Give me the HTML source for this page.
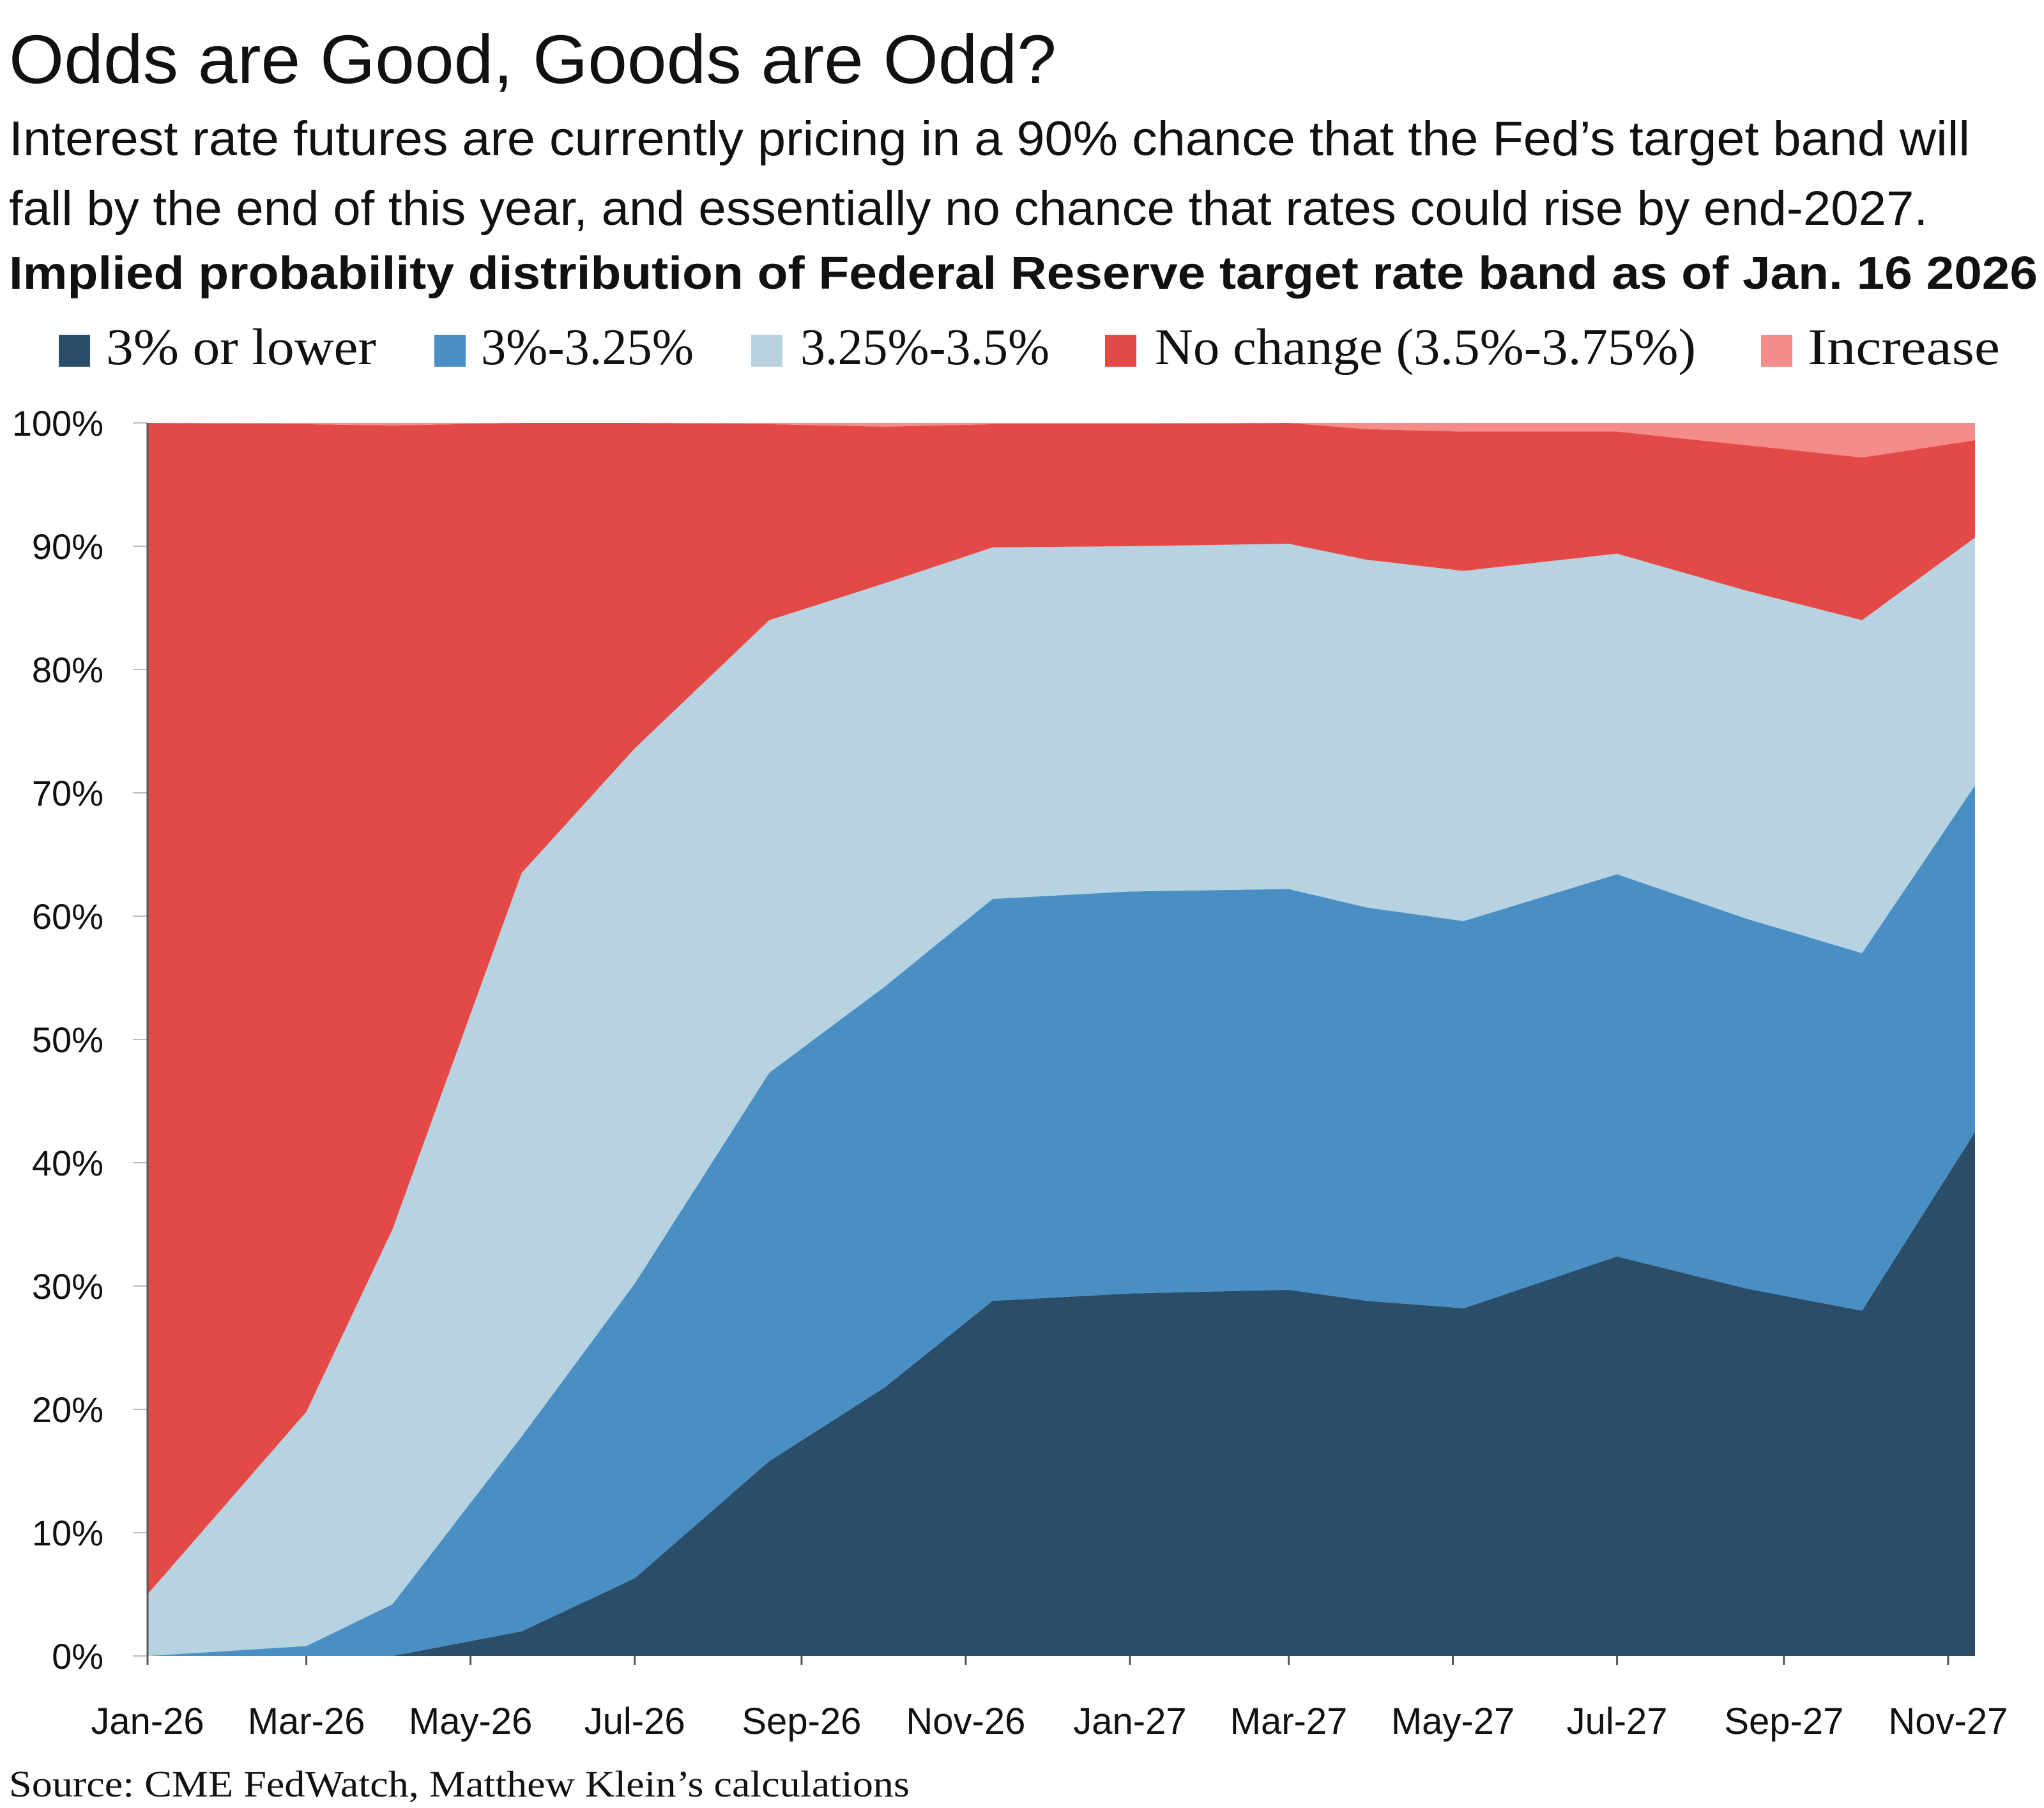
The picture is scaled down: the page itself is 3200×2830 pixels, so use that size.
<!DOCTYPE html>
<html><head><meta charset="utf-8"><style>
html,body{margin:0;padding:0;background:#fff;}
svg{display:block;}
text{fill:#111;}
.sans{font-family:"Liberation Sans","DejaVu Sans",sans-serif;}
.serif{font-family:"Liberation Serif","DejaVu Serif",serif;}
</style></head><body>
<svg id="chart" width="3200" height="2830" viewBox="0 0 3200 2830" xmlns="http://www.w3.org/2000/svg">
<text class="sans" x="14" y="130" font-size="108" textLength="1640" lengthAdjust="spacingAndGlyphs">Odds are Good, Goods are Odd?</text>
<text class="sans" x="14" y="243" font-size="76" textLength="3070" lengthAdjust="spacingAndGlyphs">Interest rate futures are currently pricing in a 90% chance that the Fed’s target band will</text>
<text class="sans" x="14" y="352" font-size="76" textLength="3004" lengthAdjust="spacingAndGlyphs">fall by the end of this year, and essentially no chance that rates could rise by end-2027.</text>
<text class="sans" x="14" y="452" font-size="72" font-weight="bold" textLength="3176" lengthAdjust="spacingAndGlyphs">Implied probability distribution of Federal Reserve target rate band as of Jan. 16 2026</text>
<g id="legend">
<g><rect x="92" y="524" width="49" height="50" fill="#2a4e69"/><text class="serif" x="166" y="570" font-size="80" textLength="423" lengthAdjust="spacingAndGlyphs">3% or lower</text></g>
<g><rect x="680" y="524" width="49" height="50" fill="#4a8fc4"/><text class="serif" x="753" y="570" font-size="80" textLength="333" lengthAdjust="spacingAndGlyphs">3%-3.25%</text></g>
<g><rect x="1176" y="524" width="49" height="50" fill="#b7d2e0"/><text class="serif" x="1253" y="570" font-size="80" textLength="390" lengthAdjust="spacingAndGlyphs">3.25%-3.5%</text></g>
<g><rect x="1730" y="524" width="49" height="50" fill="#e34a47"/><text class="serif" x="1808" y="570" font-size="80" textLength="847" lengthAdjust="spacingAndGlyphs">No change (3.5%-3.75%)</text></g>
<g><rect x="2757" y="524" width="49" height="50" fill="#f48c8a"/><text class="serif" x="2830" y="570" font-size="80" textLength="301" lengthAdjust="spacingAndGlyphs">Increase</text></g>
</g>
<g id="plot"></g>
<text class="serif" x="14" y="2812" font-size="58" textLength="1410" lengthAdjust="spacingAndGlyphs">Source: CME FedWatch, Matthew Klein’s calculations</text>
</svg>
<script>
// days since Jan 1 2026
const days = [0, 59, 91, 139, 181, 231, 274, 314, 365, 424, 453, 489, 546, 594, 637, 679];
const lowest   = [0, 0, 0, 2, 6.3, 15.8, 21.8, 28.8, 29.4, 29.7, 28.8, 28.2, 32.4, 29.8, 28.0, 42.5];
const band300  = [0, 0.8, 4.2, 15.8, 23.9, 31.5, 32.5, 32.6, 32.6, 32.5, 31.9, 31.4, 31.0, 30.0, 29.0, 28.1];
const band325  = [5, 19.0, 30.4, 45.7, 43.4, 36.7, 32.7, 28.5, 28.0, 28.0, 28.2, 28.4, 26.0, 26.6, 27.0, 20.1];
const noChange = [95, 80.1, 65.2, 36.5, 26.4, 15.9, 12.7, 10.0, 9.9, 9.8, 10.6, 11.3, 9.9, 11.8, 13.2, 7.9];
const increase = [0, 0.1, 0.2, 0, 0, 0.1, 0.3, 0.1, 0.1, 0, 0.5, 0.7, 0.7, 1.8, 2.8, 1.4];
const yTicks = [0,10,20,30,40,50,60,70,80,90,100];
const xTickLabels = ["Jan-26","Mar-26","May-26","Jul-26","Sep-26","Nov-26","Jan-27","Mar-27","May-27","Jul-27","Sep-27","Nov-27"];
const xTickDays = [0,59,120,181,243,304,365,424,485,546,608,669];
const seriesColors = ["#2a4e69","#4a8fc4","#b7d2e0","#e34a47","#f48c8a"];
const seriesNames = ["area-3pct-or-lower","area-3-3.25pct","area-3.25-3.5pct","area-no-change","area-increase"];

const L=231,R=3092,T=662,B=2592;
const NS="http://www.w3.org/2000/svg";
const xS=d=>L+(d-days[0])/(days[days.length-1]-days[0])*(R-L);
const yS=v=>B-v/100*(B-T);
const plot=document.getElementById('plot');
const series=[lowest,band300,band325,noChange,increase];
let base=days.map(()=>0);
series.forEach((s,k)=>{
  const top=base.map((b,i)=>b+s[i]);
  let d="M"+days.map((t,i)=>xS(t)+","+yS(Math.min(top[i],100))).join(" L");
  for(let i=days.length-1;i>=0;i--) d+=" L"+xS(days[i])+","+yS(base[i]);
  d+=" Z";
  const p=document.createElementNS(NS,'path');
  p.setAttribute('d',d);p.setAttribute('fill',seriesColors[k]);
  
  
  plot.appendChild(p);
  base=top;
});
yTicks.forEach(v=>{
  const ln=document.createElementNS(NS,'line');
  ln.setAttribute('x1',208);ln.setAttribute('x2',L);ln.setAttribute('y1',yS(v));ln.setAttribute('y2',yS(v));
  ln.setAttribute('stroke','#bbb');ln.setAttribute('stroke-width',2);
  
  
  plot.appendChild(ln);
  const t=document.createElementNS(NS,'text');
  t.setAttribute('x',162);t.setAttribute('y',yS(v)+20);t.setAttribute('text-anchor','end');
  t.setAttribute('font-size',56);t.setAttribute('class','sans');t.textContent=v+"%";
  
  
  plot.appendChild(t);
});
const ax=document.createElementNS(NS,'line');
ax.setAttribute('x1',L);ax.setAttribute('x2',L);ax.setAttribute('y1',T);ax.setAttribute('y2',B+14);
ax.setAttribute('stroke','#555');ax.setAttribute('stroke-width',3);


plot.appendChild(ax);
xTickDays.forEach((dd,i)=>{
  const ln=document.createElementNS(NS,'line');
  ln.setAttribute('x1',xS(dd));ln.setAttribute('x2',xS(dd));ln.setAttribute('y1',B);ln.setAttribute('y2',B+14);
  ln.setAttribute('stroke','#555');ln.setAttribute('stroke-width',3);
  
  
  plot.appendChild(ln);
  const t=document.createElementNS(NS,'text');
  t.setAttribute('x',xS(dd));t.setAttribute('y',2714);t.setAttribute('text-anchor','middle');
  t.setAttribute('font-size',58);t.setAttribute('class','sans');t.textContent=xTickLabels[i];
  
  
  plot.appendChild(t);
});
</script>
</body></html>
